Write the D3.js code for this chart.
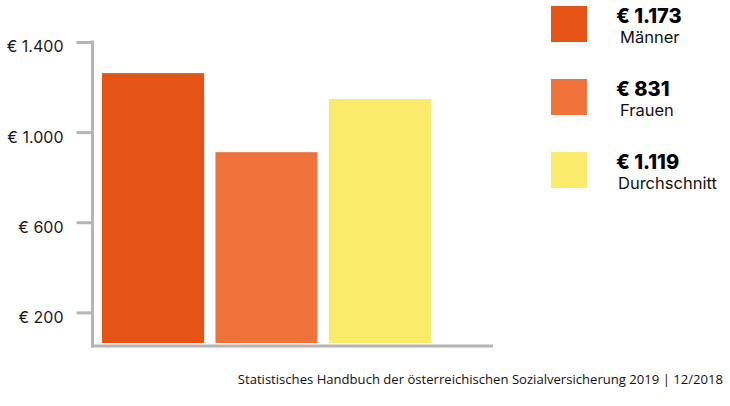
<!DOCTYPE html>
<html><head><meta charset="utf-8">
<script src="https://cdn.jsdelivr.net/npm/d3@7/dist/d3.min.js"></script>
<style>body{margin:0;background:#fff}svg{display:block}</style>
</head><body><svg id="c" width="730" height="406"></svg>
<script>
const categories = ["Männer", "Frauen", "Durchschnitt"];
const barValues = [1262, 911, 1147];
const legendAmounts = [1173, 831, 1119];
const colors = ["#E65415", "#EF733A", "#FBEB6A"];
const yTicks = [200, 600, 1000, 1400];
const source = "Statistisches Handbuch der österreichischen Sozialversicherung 2019 | 12/2018";

const de = d3.formatLocale({decimal: ",", thousands: ".", grouping: [3], currency: ["€ ", ""]});
const fmt = de.format(",.0f");

const svg = d3.select("#c");
const axisColor = "#b5b5b5";
const y = d3.scaleLinear().domain([64, 1400]).range([343, 42]);
const x = d3.scaleBand().domain(categories).range([102, 431]).paddingInner(0.1);

// bars
svg.append("g").selectAll("rect").data(categories).join("rect")
  .attr("x", d => x(d))
  .attr("width", x.bandwidth())
  .attr("y", (d, i) => y(barValues[i]))
  .attr("height", (d, i) => y.range()[0] - y(barValues[i]))
  .attr("fill", (d, i) => colors[i]);

// y axis
const yAxis = d3.axisLeft(y).tickValues(yTicks).tickSize(16).tickPadding(13)
  .tickFormat(d => "€ " + fmt(d));
const ga = svg.append("g").attr("transform", "translate(92.5,0)").call(yAxis);
ga.select(".domain").remove();
ga.selectAll(".tick line").attr("stroke", axisColor).attr("stroke-width", 3);
ga.selectAll(".tick text").attr("fill", "#1a1a1a")
  .style("font-family", "Inter, sans-serif").style("font-size", "16px").style("font-weight", 400)
  .attr("dy", "0.62em");

// axis lines
svg.append("line").attr("x1", 92.5).attr("x2", 92.5).attr("y1", y(1400) - 1.5).attr("y2", 347.5)
  .attr("stroke", axisColor).attr("stroke-width", 3);
svg.append("line").attr("x1", 91).attr("x2", 493).attr("y1", 346).attr("y2", 346)
  .attr("stroke", axisColor).attr("stroke-width", 3);

// legend
const lg = svg.append("g").selectAll("g").data(categories).join("g")
  .attr("transform", (d, i) => `translate(551,${6 + i * 73})`);
lg.append("rect").attr("width", 36).attr("height", 36).attr("fill", (d, i) => colors[i]);
lg.append("text").attr("x", 65).attr("y", 17)
  .style("font-family", "Inter, sans-serif").style("font-size", "20px").style("font-weight", 800)
  .attr("fill", "#000").text((d, i) => "€ " + fmt(legendAmounts[i]));
lg.append("text").attr("x", (d, i) => i === 2 ? 67 : 69).attr("y", 37)
  .style("font-family", "Inter, sans-serif").style("font-size", "16.5px").style("font-weight", 400)
  .attr("fill", "#111").text(d => d);

// source
svg.append("text").attr("x", 723).attr("y", 384).attr("text-anchor", "end")
  .style("font-family", "'Open Sans', sans-serif").style("font-size", "13.1px")
  .attr("fill", "#111").text(source);
</script></body></html>
